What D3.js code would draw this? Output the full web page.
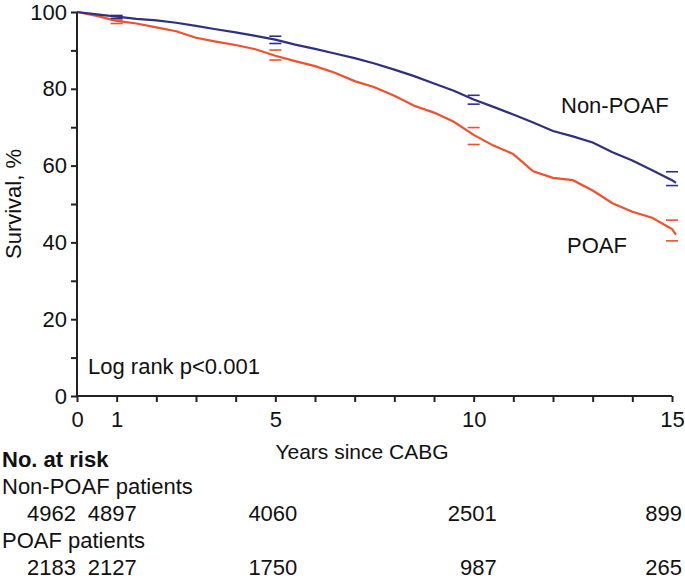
<!DOCTYPE html>
<html>
<head>
<meta charset="utf-8">
<script src="https://cdn.jsdelivr.net/npm/d3@7"></script>
<style>
  html, body { margin: 0; padding: 0; background: #fff; }
  svg { display: block; font-family: "Liberation Sans", Arial, sans-serif; }
</style>
</head>
<body>
<svg id="chart" width="685" height="582"></svg>
<script>
// ---- data ----
const years = [0,0.5,1,1.5,2,2.5,3,3.5,4,4.5,5,5.5,6,6.5,7,7.5,8,8.5,9,9.5,10,10.5,11,11.5,12,12.5,13,13.5,14,14.5,15,15.1];
const nonPoafSurvival = [100,99.4,98.8,98.2,97.8,97.2,96.4,95.5,94.7,93.8,92.8,91.5,90.4,89.2,88.0,86.6,85.0,83.3,81.4,79.5,77.2,75.3,73.3,71.2,69.0,67.6,66.0,63.5,61.3,58.8,56.2,55.5];
const poafSurvival    = [100,99.0,97.7,97.0,96.0,95.0,93.3,92.3,91.4,90.3,88.6,87.2,85.9,84.2,82.0,80.4,78.2,75.6,73.8,71.4,68.0,65.2,63.0,58.5,56.8,56.2,53.5,50.2,48.0,46.4,43.5,42.0];
const ciYears = [1,5,10,15];
const nonPoafLower = [98.3,91.8,76.0,54.8];
const nonPoafUpper = [99.1,93.7,78.3,58.4];
const poafLower    = [97.0,87.5,65.5,40.4];
const poafUpper    = [97.9,90.1,69.9,45.8];
const yTicks = [0,10,20,30,40,50,60,70,80,90,100];
const yTickLabels = [0,20,40,60,80,100];
const xTicks = [0,1,2,3,4,5,6,7,8,9,10,11,12,13,14,15];
const xTickLabels = [0,1,5,10,15];
const riskYears = [0,1,5,10,15];
const riskNonPoaf = [4962,4897,4060,2501,899];
const riskPoaf = [2183,2127,1750,987,265];

const colNon = "#2e3180";
const colPoaf = "#f0502a";

const svg = d3.select("#chart");
const x = d3.scaleLinear().domain([0,15]).range([77,672]);
const y = d3.scaleLinear().domain([0,100]).range([396,12]);

// axes
const yAxis = d3.axisLeft(y).tickValues(yTicks).tickSize(6)
  .tickFormat(d => yTickLabels.includes(d) ? d : "");
const gy = svg.append("g").attr("transform", `translate(${x(0)},0)`).call(yAxis);
gy.select(".domain").attr("d", `M0,${y(100)}V${y(0)}`).attr("stroke","#222").attr("stroke-width",2);
gy.selectAll(".tick line").attr("stroke","#222").attr("stroke-width",2);
gy.selectAll(".tick text").attr("font-size",22).attr("fill","#111").attr("x",-10)
  .attr("font-family","Liberation Sans, Arial, sans-serif");

const xAxis = d3.axisBottom(x).tickValues(xTicks).tickSize(6)
  .tickFormat(d => xTickLabels.includes(d) ? d : "");
const gx = svg.append("g").attr("transform", `translate(0,${y(0)})`).call(xAxis);
gx.select(".domain").attr("d", `M${x(0)},0H${x(15)}`).attr("stroke","#222").attr("stroke-width",2);
gx.selectAll(".tick line").attr("stroke","#222").attr("stroke-width",2);
gx.selectAll(".tick text").attr("font-size",22).attr("fill","#111").attr("y",15)
  .attr("font-family","Liberation Sans, Arial, sans-serif");

// curves
const line = d3.line().x((d,i) => x(years[i])).y(d => y(d)).curve(d3.curveLinear);
svg.append("path").datum(poafSurvival).attr("d", line)
  .attr("fill","none").attr("stroke",colPoaf).attr("stroke-width",2.2);
svg.append("path").datum(nonPoafSurvival).attr("d", line)
  .attr("fill","none").attr("stroke",colNon).attr("stroke-width",2.2);

// CI marks
function ciMarks(vals, color) {
  svg.append("g").selectAll("line").data(vals).join("line")
    .attr("x1",(d,i) => x(ciYears[i]) - 6).attr("x2",(d,i) => x(ciYears[i]) + 6)
    .attr("y1", d => y(d)).attr("y2", d => y(d))
    .attr("stroke", color).attr("stroke-width", 1.6);
}
ciMarks(nonPoafLower, colNon); ciMarks(nonPoafUpper, colNon);
ciMarks(poafLower, colPoaf); ciMarks(poafUpper, colPoaf);

// texts
const fs = 22;
svg.append("text").attr("transform",`translate(21,${(y(0)+y(100))/2}) rotate(-90)`)
  .attr("text-anchor","middle").attr("font-size",fs).attr("fill","#111").text("Survival, %");
svg.append("text").attr("x",362).attr("y",459).attr("text-anchor","middle")
  .attr("font-size",21).attr("fill","#111").text("Years since CABG");
svg.append("text").attr("x",88).attr("y",374).attr("font-size",fs).attr("fill","#111").text("Log rank p<0.001");
svg.append("text").attr("x",561).attr("y",113).attr("font-size",fs).attr("fill","#111").text("Non-POAF");
svg.append("text").attr("x",567).attr("y",253).attr("font-size",fs).attr("fill","#111").text("POAF");

// risk table
svg.append("text").attr("x",2).attr("y",467).attr("font-size",fs).attr("font-weight","bold").attr("fill","#111").text("No. at risk");
svg.append("text").attr("x",2).attr("y",494).attr("font-size",fs).attr("fill","#111").text("Non-POAF patients");
svg.append("text").attr("x",2).attr("y",548).attr("font-size",fs).attr("fill","#111").text("POAF patients");
const nudge = [-1, 20, 22, 23, 10];
function riskRow(vals, yy) {
  svg.append("g").selectAll("text").data(vals).join("text")
    .attr("x",(d,i) => x(riskYears[i]) + nudge[i]).attr("y", yy)
    .attr("text-anchor","end").attr("font-size",fs).attr("fill","#111").text(d => d);
}
riskRow(riskNonPoaf, 521);
riskRow(riskPoaf, 575);
</script>
</body>
</html>
